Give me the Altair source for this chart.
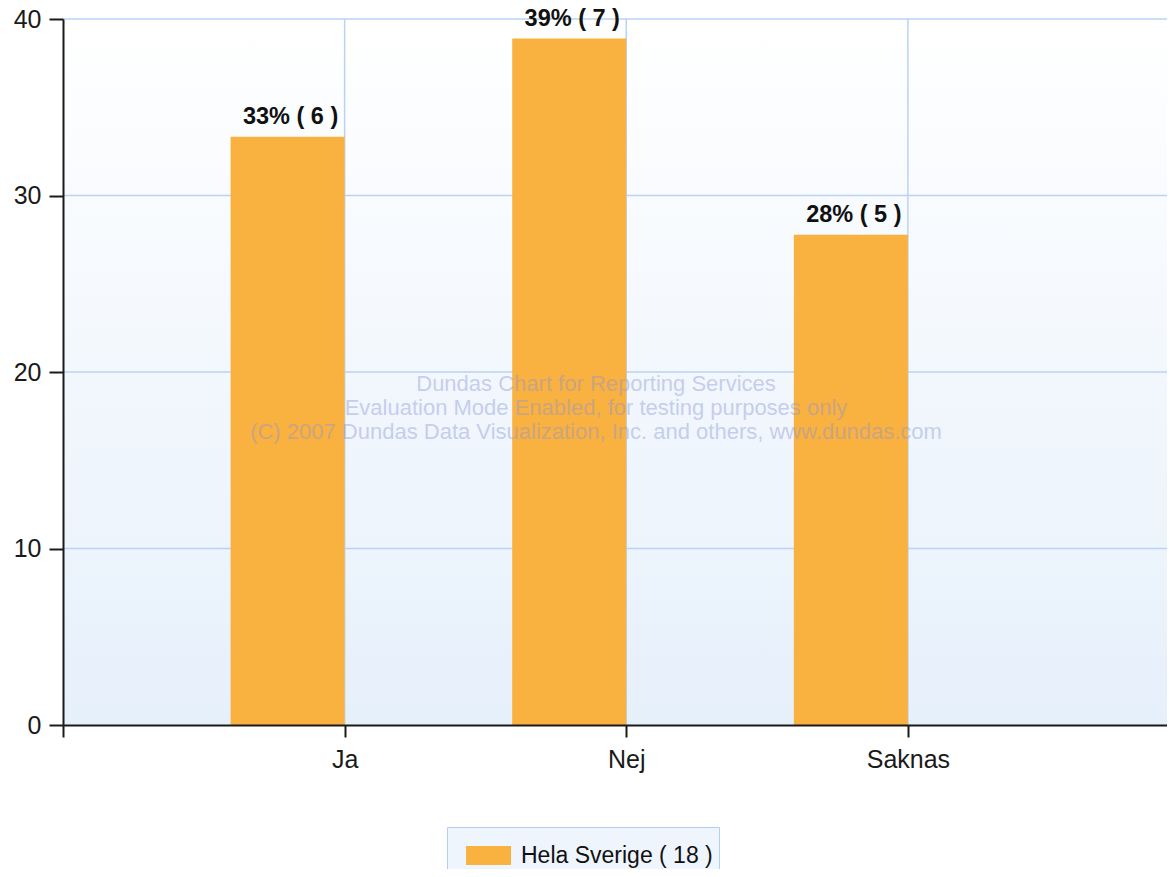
import altair as alt
import pandas as pd

# ---- data ----
categories = ["Ja", "Nej", "Saknas"]
positions = [1, 2, 3]
percent = [33.33, 38.89, 27.78]
counts = [6, 7, 5]
bar_labels = ["33% ( 6 )", "39% ( 7 )", "28% ( 5 )"]
series_name = "Hela Sverige ( 18 )"
y_ticks = [0, 10, 20, 30, 40]
y_grid = [10, 20, 30, 40]
x_ticks = [0, 1, 2, 3]
x_grid = [1, 2, 3]
watermark = [
    "Dundas Chart for Reporting Services",
    "Evaluation Mode Enabled, for testing purposes only",
    "(C) 2007 Dundas Data Visualization, Inc. and others, www.dundas.com",
]

W, H = 1104, 706
BAR_W = 0.405
ORANGE = "#F9B140"
GRID = "#BAD3F5"
FONT = "Liberation Sans"
INK = "#1A1A1A"

df = pd.DataFrame({
    "cat": categories, "pos": positions, "pct": percent,
    "n": counts, "label": bar_labels, "series": [series_name] * 3,
})

xscale = alt.Scale(domain=[0, 3.92], nice=False, zero=False)
yscale = alt.Scale(domain=[0, 40], nice=False)

label_expr = ("datum.value == 1 ? 'Ja' : datum.value == 2 ? 'Nej' : "
              "datum.value == 3 ? 'Saknas' : ''")

xaxis = alt.Axis(values=x_ticks, labelExpr=label_expr, grid=False,
                 domainColor=INK, domainWidth=2,
                 tickColor=INK, tickWidth=2, tickSize=12,
                 labelFont=FONT, labelFontSize=25, labelColor=INK,
                 labelPadding=10, labelFlush=False, zindex=1, title=None)
yaxis = alt.Axis(values=y_ticks, grid=False,
                 domainColor=INK, domainWidth=2,
                 tickColor=INK, tickWidth=2, tickSize=14,
                 labelFont=FONT, labelFontSize=25, labelColor=INK,
                 labelPadding=8, zindex=1, title=None)

bg = alt.Chart(pd.DataFrame({"k": [0]})).mark_rect(
    fill=alt.Gradient(
        gradient="linear",
        stops=[alt.GradientStop(color="#FFFFFF", offset=0),
               alt.GradientStop(color="#E6F0FB", offset=1)],
        x1=0, x2=0, y1=0, y2=1,
    )
).encode(x=alt.value(0), x2=alt.value(W), y=alt.value(0), y2=alt.value(H))

hgrid = alt.Chart(pd.DataFrame({"v": y_grid})).mark_rule(
    color=GRID, strokeWidth=1.5
).encode(y=alt.Y("v:Q", scale=yscale, axis=yaxis))

vgrid = alt.Chart(pd.DataFrame({"v": x_grid})).mark_rule(
    color=GRID, strokeWidth=1.5
).encode(x=alt.X("v:Q", scale=xscale, axis=xaxis))

base = alt.Chart(df).transform_calculate(
    x0=f"datum.pos - {BAR_W}", xc=f"datum.pos - {BAR_W / 2}"
)

bars = base.mark_bar(stroke=None).encode(
    x=alt.X("x0:Q", scale=xscale, axis=xaxis),
    x2="pos:Q",
    y=alt.Y("pct:Q", scale=yscale, axis=yaxis),
    y2=alt.datum(0),
    color=alt.Color("series:N",
                    scale=alt.Scale(domain=[series_name], range=[ORANGE]),
                    legend=alt.Legend(
                        title=None, orient="none", legendX=384, legendY=808,
                        symbolType="M-1,-0.42H1V0.42H-1Z", symbolSize=2025,
                        symbolStrokeWidth=0, symbolOffset=13,
                        labelFont=FONT, labelFontSize=23, labelColor="#111111",
                        labelLimit=400, labelOffset=10,
                        labelExpr="datum.label + '\u2003\u2003\u2003'",
                        padding=6, fillColor="#EEF5FD", strokeColor="#B0CFF3",
                    )),
)

texts = base.mark_text(
    font=FONT, fontSize=23.5, fontWeight="bold", color="#111111",
    baseline="bottom", align="center", dy=-8, dx=3,
).encode(
    x=alt.X("xc:Q", scale=xscale, axis=xaxis),
    y=alt.Y("pct:Q", scale=yscale, axis=yaxis),
    text="label:N",
)

wm = alt.Chart(pd.DataFrame({"t": ["\n".join(watermark)]})).mark_text(
    font=FONT, fontSize=22, color="#8A96D8", opacity=0.42,
    align="center", baseline="middle", lineBreak="\n", lineHeight=24,
).encode(
    x=alt.value(533),
    y=alt.value(365),
    text="t:N",
)

chart = alt.layer(bg, hgrid, vgrid, bars, texts, wm).properties(
    width=W, height=H,
    autosize=alt.AutoSizeParams(type="none"),
    padding={"left": 55, "top": 11, "right": 0, "bottom": 144},
).configure_view(stroke=None).configure(background="white")

chart.save("out.html", embed_options={"renderer": "svg", "actions": False})
